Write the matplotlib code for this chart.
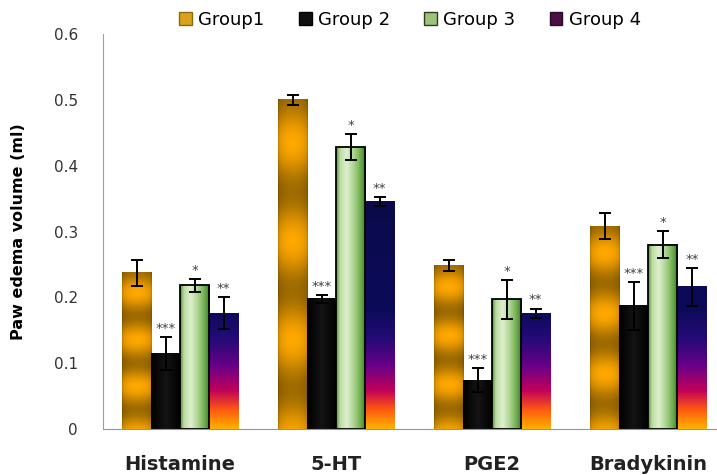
import numpy as np
import matplotlib
matplotlib.use('Agg')
import matplotlib.pyplot as plt
from matplotlib.colors import LinearSegmentedColormap, to_rgb
from matplotlib.patches import Patch

# values
categories = ['Histamine', '5-HT', 'PGE2', 'Bradykinin']
group_names = ['Group1', 'Group 2', 'Group 3', 'Group 4']
group1 = [0.237, 0.500, 0.248, 0.308]
group2 = [0.115, 0.198, 0.074, 0.187]
group3 = [0.218, 0.428, 0.197, 0.280]
group4 = [0.176, 0.346, 0.176, 0.216]
group1_err = [0.020, 0.008, 0.008, 0.020]
group2_err = [0.025, 0.006, 0.018, 0.036]
group3_err = [0.010, 0.020, 0.030, 0.020]
group4_err = [0.024, 0.007, 0.007, 0.029]
stars = ['', '***', '*', '**']
yticks = [0, 0.1, 0.2, 0.3, 0.4, 0.5, 0.6]

values = [group1, group2, group3, group4]
errors = [group1_err, group2_err, group3_err, group4_err]

# gradient helpers
def gold_fill(h, nx=40, ny=200):
    y = np.linspace(0, h, ny)[:, None]
    u = np.linspace(0, 1, nx)[None, :]
    f = 1 - y / h
    b = 0.5 + 0.5 * np.cos(2 * np.pi * (f - 0.13) / 0.3)
    dark = np.array(to_rgb('#a06c00'))
    bright = np.array(to_rgb('#ffa800'))
    rgb = dark + b[..., None] * (bright - dark)
    edge = 0.75 + 0.25 * np.sin(np.pi * u) ** 0.35
    return np.clip(rgb * edge[..., None], 0, 1)

black_cmap = LinearSegmentedColormap.from_list(
    'blk', [(0, '#000000'), (0.5, '#141414'), (1, '#000000')])
green_cmap = LinearSegmentedColormap.from_list(
    'grn', [(0, '#5c8f3c'), (0.12, '#b8dba0'), (0.35, '#dff0cf'),
            (0.6, '#acd490'), (0.85, '#6aaa48'), (1, '#3d7a2a')])
ymax4 = 0.36
fire_cmap = LinearSegmentedColormap.from_list(
    'fire', [(0, '#ffb000'), (0.028 / ymax4, '#ff5a10'), (0.058 / ymax4, '#c0005a'),
             (0.095 / ymax4, '#6a0088'), (0.135 / ymax4, '#260a78'),
             (0.18 / ymax4, '#0c0a5a'), (1, '#0a0a48')])

def horiz_fill(cmap, nx=40, ny=2):
    u = np.linspace(0, 1, nx)[None, :].repeat(ny, axis=0)
    return cmap(u)[..., :3]

def fire_fill(h, nx=2, ny=200):
    y = np.linspace(0, h, ny)[:, None].repeat(nx, axis=1)
    return fire_cmap(y / ymax4)[..., :3]

fig = plt.figure(figsize=(7.17, 4.75), dpi=100)
ax = fig.add_axes([103 / 717, 1 - 429 / 475, 1 - 103 / 717, (429 - 34) / 475])

x = np.arange(len(categories))
w = 0.186
for gi in range(4):
    pos = x + (gi - 1.5) * w
    edge = 'black' if gi == 2 else 'none'
    bars = ax.bar(pos, values[gi], w, facecolor='none', edgecolor=edge,
                  linewidth=1.3, zorder=3)
    for bar in bars:
        x0, h = bar.get_x(), bar.get_height()
        ext = (x0, x0 + bar.get_width(), 0, h)
        if gi == 0:
            img = gold_fill(h)
        elif gi == 1:
            img = horiz_fill(black_cmap)
        elif gi == 2:
            img = horiz_fill(green_cmap)
        else:
            img = fire_fill(h)
        ax.imshow(img, extent=ext, origin='lower', aspect='auto',
                  interpolation='bilinear', zorder=2)
    ax.errorbar(pos, values[gi], yerr=errors[gi], fmt='none', ecolor='black',
                elinewidth=1.4, capsize=4.5, capthick=1.4, zorder=4)
    if stars[gi]:
        for p, v, e in zip(pos, values[gi], errors[gi]):
            ax.text(p, v + e + 0.013, stars[gi], ha='center', va='center',
                    fontsize=9.5, color='#404040', zorder=5)

ax.set_xlim(-0.494, 3.44)
ax.set_ylim(0, 0.6)
ax.set_yticks(yticks)
ax.set_yticklabels(['0' if t == 0 else f'{t:.1f}' for t in yticks], fontsize=11)
ax.set_xticks(x)
ax.set_xticklabels(categories, fontsize=14, fontweight='bold')
ax.tick_params(axis='y', length=0, pad=18, colors='#333333')
ax.tick_params(axis='x', length=0, pad=19, colors='#222222')
ax.set_ylabel('Paw edema volume (ml)', fontsize=11.5, fontweight='bold', labelpad=20)

for s in ['top', 'right']:
    ax.spines[s].set_visible(False)
ax.spines['left'].set_color('#a0a0a0')
ax.spines['bottom'].set_color('#8a96aa')

handles = [Patch(facecolor='#d9a21a', edgecolor='#8a6a10'),
           Patch(facecolor='#101010', edgecolor='#000000'),
           Patch(facecolor='#9cc27c', edgecolor='#303a20'),
           Patch(facecolor='#4a0f45', edgecolor='#2a0a2a')]
fig.legend(handles, group_names, loc='center', bbox_to_anchor=(0.572, 0.958),
           ncol=4, frameon=False, fontsize=13, handlelength=0.7, handleheight=0.7,
           handletextpad=0.35, columnspacing=1.9)

plt.savefig('out.png', dpi=100)
